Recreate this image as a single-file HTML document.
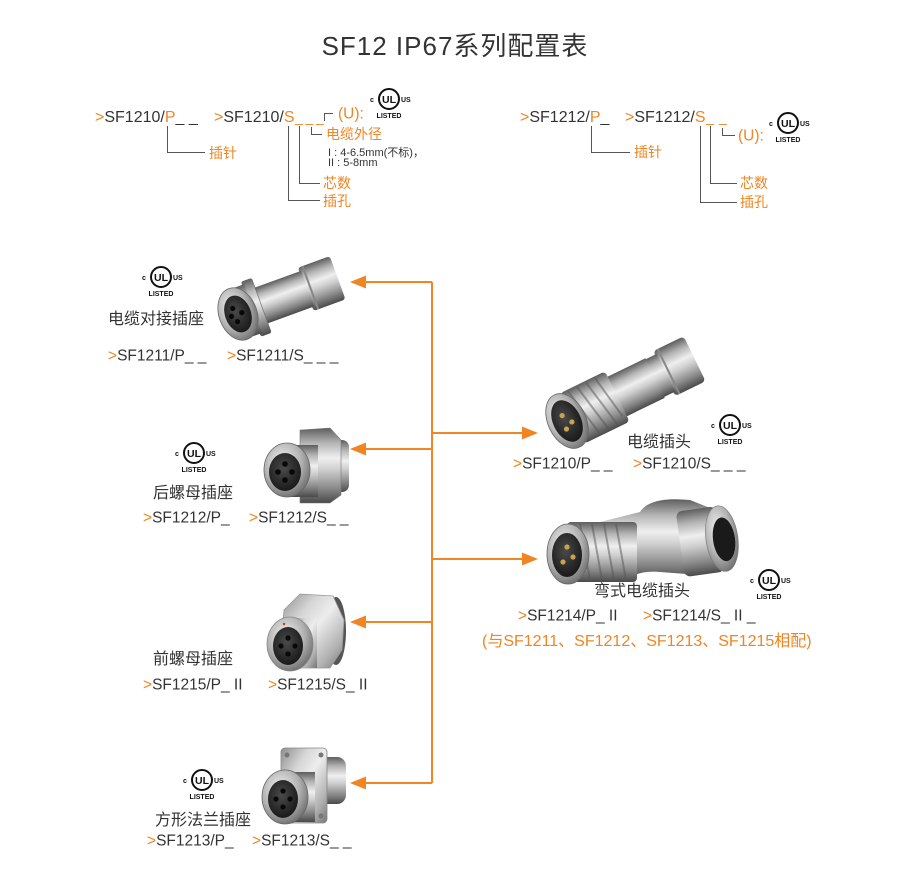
<!DOCTYPE html>
<html><head><meta charset="utf-8">
<style>
html,body{margin:0;padding:0;background:#fff;}
svg{display:block;}
text{font-family:"Liberation Sans","Noto Sans CJK SC",sans-serif;}
</style></head>
<body>
<svg width="918" height="882" viewBox="0 0 918 882" xmlns="http://www.w3.org/2000/svg">
<defs>
<linearGradient id="m" x1="0" y1="0" x2="0" y2="1">
<stop offset="0" stop-color="#5e5e5e"/><stop offset=".2" stop-color="#b5b5b5"/><stop offset=".4" stop-color="#efefef"/><stop offset=".55" stop-color="#d0d0d0"/><stop offset=".8" stop-color="#8a8a8a"/><stop offset="1" stop-color="#4a4a4a"/>
</linearGradient>
<linearGradient id="ml" x1="0" y1="0" x2="1" y2="1">
<stop offset="0" stop-color="#8d8d8d"/><stop offset=".3" stop-color="#d6d6d6"/><stop offset=".5" stop-color="#ededed"/><stop offset=".8" stop-color="#b0b0b0"/><stop offset="1" stop-color="#767676"/>
</linearGradient>
<radialGradient id="face" cx=".45" cy=".4" r=".6">
<stop offset="0" stop-color="#4a4a4a"/><stop offset="1" stop-color="#1a1a1a"/>
</radialGradient>
<radialGradient id="ring" cx=".4" cy=".35" r=".7">
<stop offset="0" stop-color="#f2f2f2"/><stop offset=".6" stop-color="#b0b0b0"/><stop offset="1" stop-color="#6a6a6a"/>
</radialGradient>
</defs>

<!-- Title -->
<text x="455" y="55" font-size="26" fill="#333" text-anchor="middle" letter-spacing="1">SF12 IP67系列配置表</text>

<!-- Top-left code breakdown -->
<g font-size="16">
<text x="95" y="122"><tspan fill="#ef8523">&gt;</tspan><tspan fill="#333">SF1210/</tspan><tspan fill="#ef8523">P</tspan><tspan fill="#333">_ _</tspan></text>
<text x="214" y="122"><tspan fill="#ef8523">&gt;</tspan><tspan fill="#333">SF1210/</tspan><tspan fill="#ef8523">S</tspan></text>
<text y="122" font-size="14" fill="#ef8523"><tspan x="295">_</tspan><tspan x="305.5">_</tspan><tspan x="316">_</tspan></text>
<text x="338" y="118.6" font-size="15.5" fill="#ef8523">(U):</text>
</g>
<g fill="none" stroke="#555" stroke-width="1">
<path d="M167.5,126 V152.5 H205"/>
<path d="M288.5,126 V200.5 H320"/>
<path d="M299.5,126 V183.5 H320"/>
<path d="M311.5,127 V134.5 H322"/>
<path d="M324.5,121 V113.5 H333"/>
</g>
<g font-size="14" fill="#ef8523">
<text x="209" y="158">插针</text>
<text x="326" y="139">电缆外径</text>
<text x="323" y="188">芯数</text>
<text x="323" y="206">插孔</text>
</g>
<g font-size="11" fill="#333">
<text x="328" y="156">I : 4-6.5mm(不标)，</text>
<text x="328" y="166">II : 5-8mm</text>
</g>
<!-- UL top-left -->
<g transform="translate(367,87)">
<circle cx="22" cy="12" r="10" fill="none" stroke="#111" stroke-width="2"/>
<text x="22" y="16" font-size="10.5" font-weight="bold" text-anchor="middle" fill="#111">UL</text>
<text x="3" y="15" font-size="7" font-weight="bold" fill="#111">c</text>
<text x="34" y="15" font-size="7" font-weight="bold" fill="#111">US</text>
<text x="22" y="31" font-size="7" font-weight="bold" text-anchor="middle" fill="#111">LISTED</text>
</g>

<!-- Top-right code breakdown -->
<g font-size="16">
<text x="520" y="122"><tspan fill="#ef8523">&gt;</tspan><tspan fill="#333">SF1212/</tspan><tspan fill="#ef8523">P</tspan><tspan fill="#333">_</tspan></text>
<text x="625" y="122"><tspan fill="#ef8523">&gt;</tspan><tspan fill="#333">SF1212/</tspan><tspan fill="#ef8523">S</tspan></text>
<text y="122" font-size="14" fill="#ef8523"><tspan x="706">_</tspan><tspan x="719">_</tspan></text>
<text x="738" y="140.6" font-size="15.5" fill="#ef8523">(U):</text>
</g>
<g fill="none" stroke="#555" stroke-width="1">
<path d="M591.5,126 V152.5 H630"/>
<path d="M700.5,126 V202.5 H737"/>
<path d="M710.5,126 V183.5 H737"/>
<path d="M722.5,128 V135.5 H735"/>
</g>
<g font-size="14" fill="#ef8523">
<text x="634" y="157">插针</text>
<text x="740" y="188">芯数</text>
<text x="740" y="207">插孔</text>
</g>
<g transform="translate(766,111)">
<circle cx="22" cy="12" r="10" fill="none" stroke="#111" stroke-width="2"/>
<text x="22" y="16" font-size="10.5" font-weight="bold" text-anchor="middle" fill="#111">UL</text>
<text x="3" y="15" font-size="7" font-weight="bold" fill="#111">c</text>
<text x="34" y="15" font-size="7" font-weight="bold" fill="#111">US</text>
<text x="22" y="31" font-size="7" font-weight="bold" text-anchor="middle" fill="#111">LISTED</text>
</g>

<!-- Orange tree -->
<g stroke="#ef8523" stroke-width="2" fill="none">
<path d="M432,282 V783"/>
<path d="M432,282 H362"/>
<path d="M432,449 H362"/>
<path d="M432,622 H362"/>
<path d="M432,783 H362"/>
<path d="M432,433 H525"/>
<path d="M432,559 H525"/>
</g>
<g fill="#ef8523">
<path d="M350,282 L366,275.5 L366,288.5 Z"/>
<path d="M350,449 L366,442.5 L366,455.5 Z"/>
<path d="M350,622 L366,615.5 L366,628.5 Z"/>
<path d="M350,783 L366,776.5 L366,789.5 Z"/>
<path d="M538,433 L522,426.5 L522,439.5 Z"/>
<path d="M538,559 L522,552.5 L522,565.5 Z"/>
</g>

<!-- Connector 1: 电缆对接插座 -->
<g transform="translate(238,314) rotate(-20)">
<rect x="72" y="-23" width="34" height="46" rx="3" fill="url(#m)"/>
<rect x="76" y="-23" width="2" height="46" fill="#888"/>
<rect x="24" y="-19" width="50" height="38" fill="url(#m)"/>
<rect x="14" y="-29" width="11" height="58" rx="2" fill="url(#m)" stroke="#666" stroke-width=".6"/>
<rect x="0" y="-26" width="16" height="52" fill="url(#m)"/>
<ellipse cx="0" cy="0" rx="19" ry="27" fill="url(#ring)" stroke="#666" stroke-width=".8"/>
<ellipse cx="0" cy="0" rx="13" ry="19" fill="url(#face)"/>
<circle cx="-3" cy="-7" r="2.6" fill="#080808"/><circle cx="4" cy="0" r="2.6" fill="#080808"/><circle cx="-3" cy="7" r="2.6" fill="#080808"/><circle cx="-7" cy="0" r="2.6" fill="#080808"/>
</g>
<g font-size="16" fill="#333"><text x="108" y="324">电缆对接插座</text></g>
<g font-size="15.5" fill="#333">
<text x="108" y="360.5"><tspan fill="#ef8523">&gt;</tspan>SF1211/P_ _</text>
<text x="227" y="360.5"><tspan fill="#ef8523">&gt;</tspan>SF1211/S_ _ _</text>
</g>
<g transform="translate(139,265)">
<circle cx="22" cy="12" r="10" fill="none" stroke="#111" stroke-width="2"/>
<text x="22" y="16" font-size="10.5" font-weight="bold" text-anchor="middle" fill="#111">UL</text>
<text x="3" y="15" font-size="7" font-weight="bold" fill="#111">c</text>
<text x="34" y="15" font-size="7" font-weight="bold" fill="#111">US</text>
<text x="22" y="31" font-size="7" font-weight="bold" text-anchor="middle" fill="#111">LISTED</text>
</g>

<!-- Connector 2: 后螺母插座 -->
<g>
<rect x="318" y="440" width="31" height="52" rx="7" fill="url(#m)"/>
<polygon points="300,430 330,428 341,440 341,495 330,503 300,503" fill="url(#m)" stroke="#777" stroke-width=".6"/>
<rect x="285" y="445" width="33" height="52" fill="url(#m)"/>
<ellipse cx="287" cy="470" rx="23" ry="27" fill="url(#ring)" stroke="#666" stroke-width=".8"/>
<ellipse cx="285" cy="472" rx="16" ry="19" fill="url(#face)"/>
<circle cx="285" cy="464" r="2.8" fill="#080808"/><circle cx="292" cy="472" r="2.8" fill="#080808"/><circle cx="285" cy="480" r="2.8" fill="#080808"/><circle cx="278" cy="472" r="2.8" fill="#080808"/>
</g>
<g font-size="16" fill="#333"><text x="153" y="498">后螺母插座</text></g>
<g font-size="15.5" fill="#333">
<text x="143" y="522.5"><tspan fill="#ef8523">&gt;</tspan>SF1212/P_</text>
<text x="249" y="522.5"><tspan fill="#ef8523">&gt;</tspan>SF1212/S_ _</text>
</g>
<g transform="translate(172,441)">
<circle cx="22" cy="12" r="10" fill="none" stroke="#111" stroke-width="2"/>
<text x="22" y="16" font-size="10.5" font-weight="bold" text-anchor="middle" fill="#111">UL</text>
<text x="3" y="15" font-size="7" font-weight="bold" fill="#111">c</text>
<text x="34" y="15" font-size="7" font-weight="bold" fill="#111">US</text>
<text x="22" y="31" font-size="7" font-weight="bold" text-anchor="middle" fill="#111">LISTED</text>
</g>

<!-- Connector 3: 前螺母插座 -->
<g>
<ellipse cx="336" cy="631" rx="10" ry="34" fill="#555"/>
<polygon points="300,594 333,596 344,620 342,650 330,668 296,668 281,642 284,610" fill="url(#ml)" stroke="#999" stroke-width=".8"/>
<rect x="289" y="618" width="28" height="50" fill="url(#ml)"/>
<ellipse cx="290" cy="644" rx="23" ry="27" fill="url(#ring)" stroke="#888" stroke-width=".8"/>
<ellipse cx="288" cy="646" rx="15" ry="19" fill="url(#face)"/>
<circle cx="288" cy="638" r="2.6" fill="#080808"/><circle cx="295" cy="646" r="2.6" fill="#080808"/><circle cx="288" cy="654" r="2.6" fill="#080808"/><circle cx="281" cy="646" r="2.6" fill="#080808"/>
<circle cx="284" cy="624" r="1.2" fill="#c33"/>
</g>
<g font-size="16" fill="#333"><text x="153" y="664">前螺母插座</text></g>
<g font-size="15.5" fill="#333">
<text x="143" y="689.5"><tspan fill="#ef8523">&gt;</tspan>SF1215/P_ II</text>
<text x="268" y="689.5"><tspan fill="#ef8523">&gt;</tspan>SF1215/S_ II</text>
</g>

<!-- Connector 4: 方形法兰插座 -->
<g>
<rect x="310" y="757" width="36" height="47" rx="9" fill="url(#m)"/>
<rect x="281" y="748" width="46" height="75" rx="4" fill="url(#ml)" stroke="#888" stroke-width=".8"/>
<circle cx="287" cy="755" r="2.5" fill="#777"/><circle cx="321" cy="755" r="2.5" fill="#777"/><circle cx="287" cy="816" r="2.5" fill="#777"/><circle cx="321" cy="816" r="2.5" fill="#777"/>
<rect x="285" y="772" width="30" height="50" fill="url(#m)"/>
<ellipse cx="285" cy="797" rx="23" ry="27" fill="url(#ring)" stroke="#666" stroke-width=".8"/>
<ellipse cx="283" cy="799" rx="15" ry="19" fill="url(#face)"/>
<circle cx="283" cy="791" r="2.6" fill="#080808"/><circle cx="290" cy="799" r="2.6" fill="#080808"/><circle cx="283" cy="807" r="2.6" fill="#080808"/><circle cx="276" cy="799" r="2.6" fill="#080808"/>
</g>
<g font-size="16" fill="#333"><text x="155" y="825">方形法兰插座</text></g>
<g font-size="15.5" fill="#333">
<text x="147" y="845.5"><tspan fill="#ef8523">&gt;</tspan>SF1213/P_</text>
<text x="252" y="845.5"><tspan fill="#ef8523">&gt;</tspan>SF1213/S_ _</text>
</g>
<g transform="translate(180,768)">
<circle cx="22" cy="12" r="10" fill="none" stroke="#111" stroke-width="2"/>
<text x="22" y="16" font-size="10.5" font-weight="bold" text-anchor="middle" fill="#111">UL</text>
<text x="3" y="15" font-size="7" font-weight="bold" fill="#111">c</text>
<text x="34" y="15" font-size="7" font-weight="bold" fill="#111">US</text>
<text x="22" y="31" font-size="7" font-weight="bold" text-anchor="middle" fill="#111">LISTED</text>
</g>

<!-- Connector 5: 电缆插头 -->
<g transform="translate(567,421) rotate(-26)">
<rect x="108" y="-25" width="34" height="50" rx="4" fill="url(#m)"/>
<rect x="112" y="-25" width="2" height="50" fill="#888"/>
<rect x="94" y="-21" width="16" height="42" fill="url(#m)"/>
<rect x="50" y="-22" width="48" height="44" fill="url(#m)"/>
<rect x="6" y="-28" width="50" height="56" rx="4" fill="url(#m)"/>
<g stroke="#555" stroke-width="2" opacity=".5">
<path d="M14,-26 L24,26"/><path d="M24,-26 L34,26"/><path d="M34,-26 L44,26"/><path d="M44,-26 L52,20"/>
</g>
<ellipse cx="0" cy="0" rx="19" ry="29" fill="url(#ring)" stroke="#666" stroke-width=".8"/>
<ellipse cx="0" cy="0" rx="14" ry="22" fill="url(#face)"/>
<circle cx="-2" cy="-7" r="2.6" fill="#c9a24c"/><circle cx="4" cy="3" r="2.6" fill="#c9a24c"/><circle cx="-4" cy="7" r="2.6" fill="#c9a24c"/>
</g>
<g font-size="16" fill="#333"><text x="627" y="447">电缆插头</text></g>
<g font-size="15.5" fill="#333">
<text x="513" y="468.5"><tspan fill="#ef8523">&gt;</tspan>SF1210/P_ _</text>
<text x="633" y="468.5"><tspan fill="#ef8523">&gt;</tspan>SF1210/S_ _ _</text>
</g>
<g transform="translate(708,413)">
<circle cx="22" cy="12" r="10" fill="none" stroke="#111" stroke-width="2"/>
<text x="22" y="16" font-size="10.5" font-weight="bold" text-anchor="middle" fill="#111">UL</text>
<text x="3" y="15" font-size="7" font-weight="bold" fill="#111">c</text>
<text x="34" y="15" font-size="7" font-weight="bold" fill="#111">US</text>
<text x="22" y="31" font-size="7" font-weight="bold" text-anchor="middle" fill="#111">LISTED</text>
</g>

<!-- Connector 6: 弯式电缆插头 -->
<g>
<path d="M600,522 L640,512 Q650,496 690,500 L715,510 L700,575 L660,572 Q640,570 625,580 Z" fill="url(#m)"/>
<g transform="translate(712,540) rotate(-8)">
<rect x="-32" y="-33" width="40" height="66" rx="6" fill="url(#m)"/>
<ellipse cx="10" cy="0" rx="16" ry="33" fill="url(#ring)" stroke="#777" stroke-width=".6"/>
<ellipse cx="12" cy="1" rx="11" ry="22" fill="#1a1a1a"/>
</g>
<rect x="567" y="522" width="70" height="60" rx="4" fill="url(#m)"/>
<g stroke="#555" stroke-width="2" opacity=".5">
<path d="M580,524 L590,580"/><path d="M592,524 L602,580"/><path d="M604,524 L614,580"/><path d="M616,524 L626,580"/>
</g>
<ellipse cx="568" cy="554" rx="21" ry="30" fill="url(#ring)" stroke="#666" stroke-width=".8"/>
<ellipse cx="567" cy="555" rx="15" ry="22" fill="url(#face)"/>
<circle cx="567" cy="547" r="2.6" fill="#c9a24c"/><circle cx="573" cy="557" r="2.6" fill="#c9a24c"/><circle cx="563" cy="562" r="2.6" fill="#c9a24c"/>
</g>
<g font-size="16" fill="#333"><text x="594" y="596">弯式电缆插头</text></g>
<g font-size="15.5" fill="#333">
<text x="518" y="620.5"><tspan fill="#ef8523">&gt;</tspan>SF1214/P_ II</text>
<text x="643" y="620.5"><tspan fill="#ef8523">&gt;</tspan>SF1214/S_ II _</text>
</g>
<text x="482" y="646" font-size="16" fill="#ef8523">(与SF1211、SF1212、SF1213、SF1215相配)</text>
<g transform="translate(747,568)">
<circle cx="22" cy="12" r="10" fill="none" stroke="#111" stroke-width="2"/>
<text x="22" y="16" font-size="10.5" font-weight="bold" text-anchor="middle" fill="#111">UL</text>
<text x="3" y="15" font-size="7" font-weight="bold" fill="#111">c</text>
<text x="34" y="15" font-size="7" font-weight="bold" fill="#111">US</text>
<text x="22" y="31" font-size="7" font-weight="bold" text-anchor="middle" fill="#111">LISTED</text>
</g>
</svg>
</body></html>
